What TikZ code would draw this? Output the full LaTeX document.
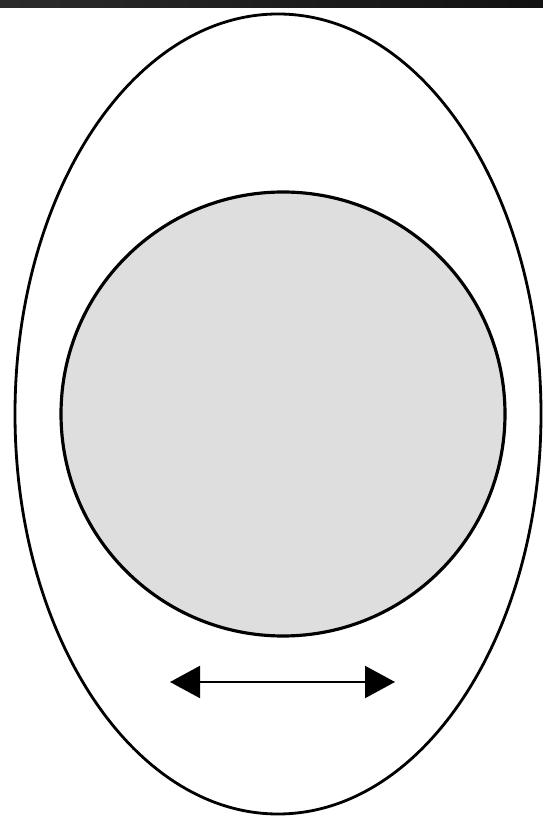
\documentclass[tikz,border=0pt]{standalone}
\usetikzlibrary{arrows.meta}
\begin{document}
\begin{tikzpicture}
    \useasboundingbox (0,0) rectangle (10.86,16.34);
    \shade[left color=black!83, right color=black!93] (0,16.18) rectangle (10.86,16.34);
    \draw[line width=1.6pt] (5.56,8.06) ellipse [x radius=5.26, y radius=8.0];
    \draw[line width=1.8pt, fill=black!13] (5.66,8.06) circle (4.44);
    \coordinate (left) at (3.4,2.7);
    \coordinate (right) at (7.9,2.7);
    \draw[line width=1.2pt, {Triangle[length=0.6cm, width=0.64cm]}-{Triangle[length=0.6cm, width=0.64cm]}] (left) -- (right);
\end{tikzpicture}
\end{document}
